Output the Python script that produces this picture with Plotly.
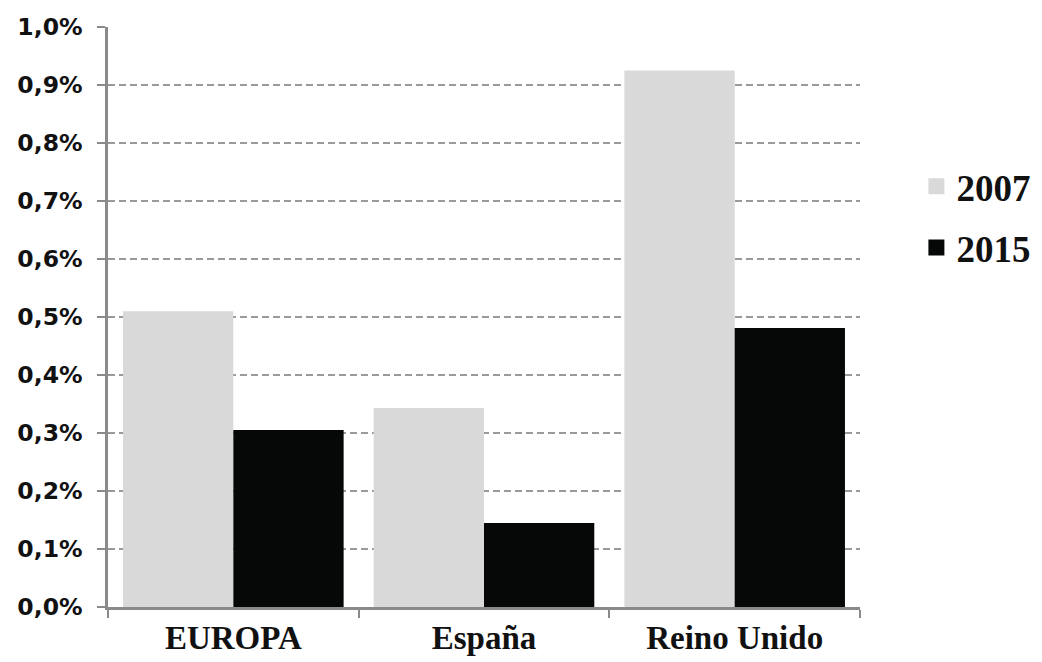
import plotly.graph_objects as go

categories = ["EUROPA", "España", "Reino Unido"]
values_2007 = [0.51, 0.343, 0.925]
values_2015 = [0.305, 0.145, 0.481]
series_names = ["2007", "2015"]
ytick_vals = [0.0, 0.1, 0.2, 0.3, 0.4, 0.5, 0.6, 0.7, 0.8, 0.9, 1.0]
ytick_text = ["0,0%", "0,1%", "0,2%", "0,3%", "0,4%", "0,5%", "0,6%", "0,7%", "0,8%", "0,9%", "1,0%"]

colors = ["#d9d9d9", "#060808"]

fig = go.Figure()
for name, vals, col in zip(series_names, [values_2007, values_2015], colors):
    fig.add_trace(go.Bar(x=categories, y=vals, name=name, marker=dict(color=col, line=dict(width=0)),
                         showlegend=False))
for i, (name, col) in enumerate(zip(series_names, colors)):
    fig.add_trace(go.Scatter(x=[None], y=[None], mode="markers", name=name,
                             marker=dict(symbol="square", size=20, color=col),
                             legendgroup=name, showlegend=True))

fig.update_layout(
    width=1042, height=662,
    margin=dict(l=108, r=182, t=27, b=55, autoexpand=False),
    paper_bgcolor="white", plot_bgcolor="white",
    barmode="group", bargap=0.12, bargroupgap=0,
    legend=dict(x=1.075, y=0.672, xanchor="left", yanchor="middle",
                font=dict(family="Liberation Serif", size=37, color="#111"),
                traceorder="grouped", tracegroupgap=10, itemwidth=30),
    xaxis=dict(showline=True, linecolor="#8a8a8a", linewidth=2.5, automargin=False,
               ticks="outside", tickson="boundaries", ticklen=8, tickcolor="#8a8a8a", tickwidth=2,
               tickfont=dict(family="Liberation Serif", size=33, color="#111"),
               showgrid=False),
    yaxis=dict(range=[0, 1.0], tickvals=ytick_vals, ticktext=ytick_text, automargin=False,
               showline=True, linecolor="#8a8a8a", linewidth=2.5,
               ticks="outside", ticklen=8, tickcolor="#8a8a8a", tickwidth=2,
               tickfont=dict(family="DejaVu Sans", size=23.5, color="#111", weight="bold"),
               ticklabelstandoff=10,
               showgrid=True, gridcolor="#9a9a9a", gridwidth=2, griddash="7px,4px",
               zeroline=False),
)
fig.update_xaxes(tickfont_weight="bold")
fig.update_layout(legend_font_weight="bold")

fig.write_html("out.html")
